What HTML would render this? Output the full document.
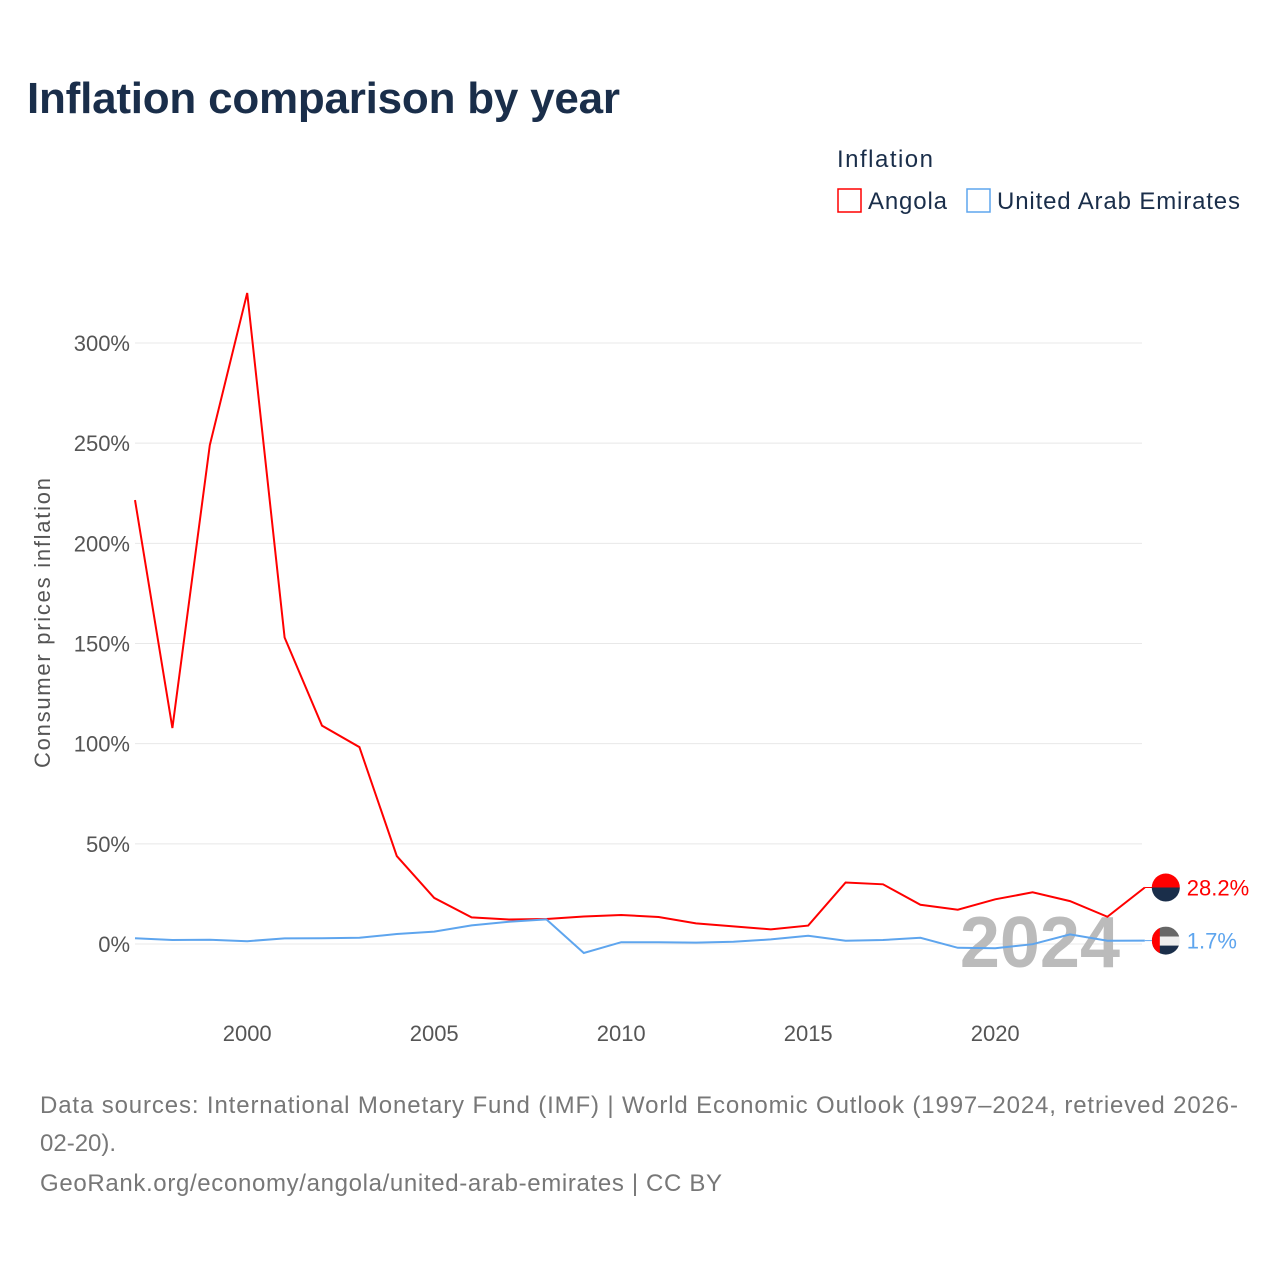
<!DOCTYPE html>
<html><head><meta charset="utf-8"><style>
body{margin:0;background:#fff;font-family:"Liberation Sans",sans-serif;}
</style></head><body>
<svg width="1280" height="1280" xmlns="http://www.w3.org/2000/svg" style="font-family:'Liberation Sans',sans-serif">
<text x="27" y="113" font-size="44" font-weight="bold" fill="#1a2e4a" textLength="593">Inflation comparison by year</text>
<text x="837" y="167" font-size="24" fill="#1a2e4a" textLength="96">Inflation</text>
<g><rect x="838" y="189" width="23" height="23" fill="none" stroke="#ff0000" stroke-width="1.5"/><text x="868" y="209" font-size="24" fill="#1a2e4a" textLength="79">Angola</text></g>
<g><rect x="967" y="189" width="23" height="23" fill="none" stroke="#5ea5ee" stroke-width="1.5"/><text x="997" y="209" font-size="24" fill="#1a2e4a" textLength="243">United Arab Emirates</text></g>
<g id="grid"></g>
<g id="yticks"></g>
<g id="xticks"></g>
<text transform="translate(50,623) rotate(-90)" text-anchor="middle" font-size="22" fill="#555" textLength="290">Consumer prices inflation</text>
<text x="1120" y="967" text-anchor="end" font-size="72" font-weight="bold" fill="#bbb">2024</text>
<g id="series"></g>
<text x="40" y="1113" font-size="24" fill="#777" textLength="1198">Data sources: International Monetary Fund (IMF) | World Economic Outlook (1997–2024, retrieved 2026-</text>
<text x="40" y="1151" font-size="24" fill="#777">02-20).</text>
<text x="40" y="1191" font-size="24" fill="#777" textLength="682">GeoRank.org/economy/angola/united-arab-emirates | CC BY</text>
</svg>
<script>
const years=[1997,1998,1999,2000,2001,2002,2003,2004,2005,2006,2007,2008,2009,2010,2011,2012,2013,2014,2015,2016,2017,2018,2019,2020,2021,2022,2023,2024];
const angola=[221.6,107.8,249,325,153,109,98.3,43.9,23,13.3,12.2,12.5,13.7,14.5,13.5,10.3,8.8,7.3,9.2,30.7,29.8,19.6,17.1,22.3,25.8,21.4,13.6,28.2];
const uae=[2.9,2,2.1,1.4,2.8,2.9,3.1,5,6.2,9.3,11.1,12.3,-4.5,0.9,0.9,0.7,1.1,2.3,4.1,1.6,2,3.1,-1.9,-2.1,-0.1,4.8,1.6,1.7];
const yTicks=[0,50,100,150,200,250,300];
const xTicks=[2000,2005,2010,2015,2020];
const X=v=>135+(v-1997)*37.4;
const Y=v=>944-v*2.0033;
const NS="http://www.w3.org/2000/svg";
function mk(t,a,p){const e=document.createElementNS(NS,t);for(const k in a)e.setAttribute(k,a[k]);p.appendChild(e);return e;}
const grid=document.getElementById('grid'),yt=document.getElementById('yticks'),xt=document.getElementById('xticks'),ser=document.getElementById('series');
yTicks.forEach(v=>{
 const l=mk('line',{x1:135,x2:1142,y1:Y(v),y2:Y(v),stroke:'#e8e8e8','stroke-width':1},grid);
 
 
 const t=mk('text',{x:130,y:Y(v)+8,'text-anchor':'end','font-size':22,fill:'#555'},yt);
 t.textContent=v+'%';
 
 
});
xTicks.forEach(v=>{
 const t=mk('text',{x:X(v),y:1041,'text-anchor':'middle','font-size':22,fill:'#555'},xt);
 t.textContent=v;
 
 
});
function line(vals,color,name,uaeFlag){
 const p=mk('polyline',{points:vals.map((v,i)=>X(years[i])+','+Y(v)).join(' '),fill:'none',stroke:color,'stroke-width':2},ser);
 
 
 const last=vals[vals.length-1],lx=X(years[years.length-1]),ly=Y(last);
 mk('line',{x1:lx,x2:lx+10,y1:ly,y2:ly,stroke:color,'stroke-width':1},ser);
 const cx=lx+21;
 const g=mk('g',{},ser);
 
 
 if(!uaeFlag){
  mk('path',{d:`M${cx-14},${ly} A14,14 0 0,1 ${cx+14},${ly} Z`,fill:'#ff0000'},g);
  mk('path',{d:`M${cx-14},${ly} A14,14 0 0,0 ${cx+14},${ly} Z`,fill:'#1a2e4a'},g);
 } else {
  mk('clipPath',{id:'fc'},g);
  mk('circle',{cx:cx,cy:ly,r:14},g.lastChild);
  const gg=mk('g',{'clip-path':'url(#fc)'},g);
  mk('rect',{x:cx-14,y:ly-14,width:28,height:10,fill:'#666'},gg);
  mk('rect',{x:cx-14,y:ly-4,width:28,height:9,fill:'#eee'},gg);
  mk('rect',{x:cx-14,y:ly+5,width:28,height:10,fill:'#1a2e4a'},gg);
  mk('rect',{x:cx-14,y:ly-14,width:8,height:28,fill:'#ff0000'},gg);
 }
 const t=mk('text',{x:lx+42,y:ly+8,'font-size':22,fill:color},ser);
 t.textContent=last+'%';
 
 
}
line(angola,'#ff0000','angola-line',false);
line(uae,'#5ea5ee','uae-line',true);
</script>
</body></html>
